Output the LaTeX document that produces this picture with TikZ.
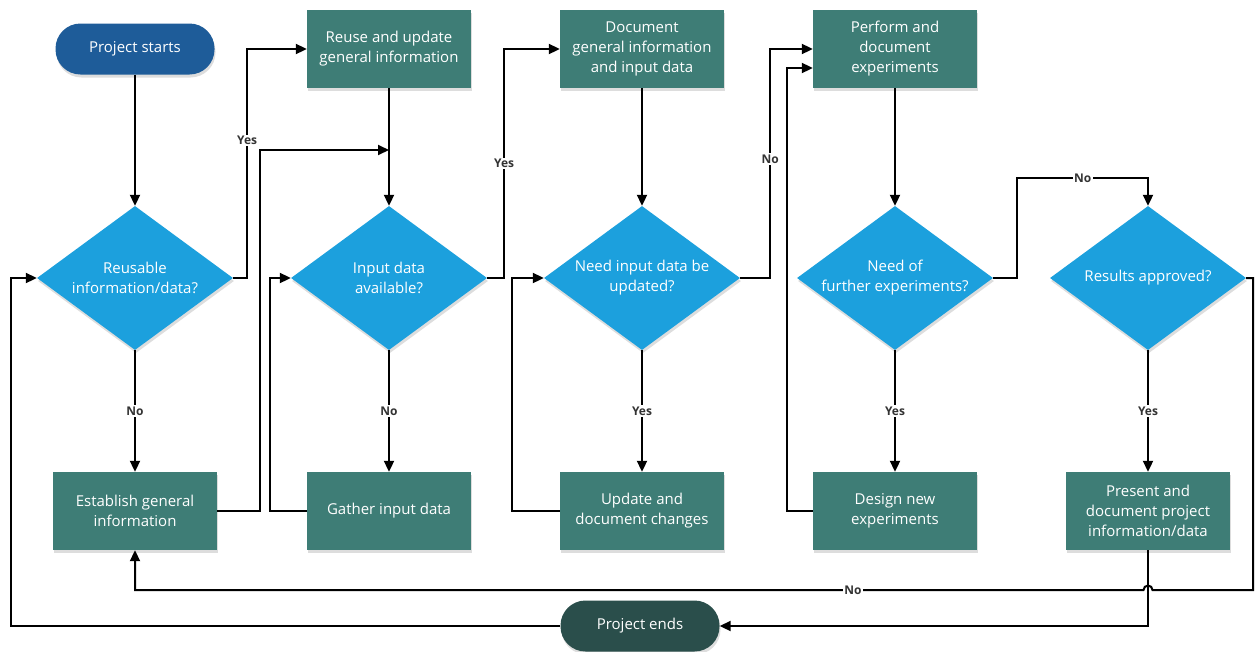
\documentclass[tikz,border=0pt]{standalone}
\usepackage{fontspec}
\setmainfont{Open Sans}
\usetikzlibrary{shapes.geometric,arrows.meta,shadows}
\definecolor{startblue}{HTML}{1E5C99}
\definecolor{endteal}{HTML}{2A4E4B}
\definecolor{boxteal}{HTML}{3E7D76}
\definecolor{diablue}{HTML}{1CA0DD}
\definecolor{lblgray}{HTML}{333333}
\begin{document}
\begin{tikzpicture}[x=1pt,y=-1pt,
  font=\fontsize{15}{20}\selectfont,
  shad/.style={drop shadow={shadow xshift=1pt,shadow yshift=-3pt,opacity=0.22,fill=black!60}},
  box/.style={rectangle,fill=boxteal,text=white,minimum width=164pt,minimum height=78pt,align=center,inner sep=0pt,shad},
  pill/.style={rectangle,rounded corners=25pt,text=white,minimum width=159pt,minimum height=51pt,inner sep=0pt,shad},
  dia/.style={diamond,fill=diablue,minimum width=196pt,minimum height=144pt,inner sep=0pt,shape aspect=1.36,shad},
  dlab/.style={text=white,align=center},
  arr/.style={draw=black,line width=2pt,-{Triangle[length=11pt,width=10pt]}},
  lbl/.style={fill=white,text=lblgray,inner sep=1.5pt,font=\bfseries\fontsize{12}{14}\selectfont}
]
\useasboundingbox (0,0) rectangle (1255,651);
% nodes
\node[pill,fill=startblue] (start) at (135,49) {Project starts};
\node[box] (reuse) at (389,49) {Reuse and update\\general information};
\node[box] (doc) at (642,49) {Document\\general information\\and input data};
\node[box] (perf) at (895,49) {Perform and\\document\\experiments};

\node[dia,label={[dlab]center:{Reusable\\information/data?}}] (d1) at (135,278) {};
\node[dia,label={[dlab]center:{Input data\\available?}}] (d2) at (389,278) {};
\node[dia,label={[dlab]center:{Need input data be\\updated?}}] (d3) at (642,278) {};
\node[dia,label={[dlab]center:{Need of\\further experiments?}}] (d4) at (895,278) {};
\node[dia,label={[dlab]center:{Results approved?}}] (d5) at (1148,278) {};

\node[box] (est) at (135,511) {Establish general\\information};
\node[box] (gat) at (389,511) {Gather input data};
\node[box] (upd) at (642,511) {Update and\\document changes};
\node[box] (des) at (895,511) {Design new\\experiments};
\node[box] (pres) at (1148,511) {Present and\\document project\\information/data};

\node[pill,fill=endteal] (end) at (640,626) {Project ends};

\coordinate (j1) at (389,150);
\coordinate (bl) at (135,590);

% connectors
\draw[arr] (start.south) -- (d1.north);
\draw[arr] (d1.east) -- ++(14,0) |- node[lbl,pos=0.3]{Yes} (reuse.west);
\draw[arr] (reuse.south) -- (d2.north);
\draw[arr] (d1.south) -- node[lbl]{No} (est.north);
\draw[arr] (est.east) -- ++(43,0) |- (j1);
\draw[arr] (gat.west) -- ++(-37,0) |- (d2.west);
\draw[arr] (d2.south) -- node[lbl]{No} (gat.north);
\draw[arr] (d2.east) -- ++(17,0) |- node[lbl,pos=0.25]{Yes} (doc.west);
\draw[arr] (doc.south) -- (d3.north);
\draw[arr] (d3.south) -- node[lbl]{Yes} (upd.north);
\draw[arr] (upd.west) -- ++(-48,0) |- (d3.west);
\draw[arr] (d3.east) -- ++(30,0) |- node[lbl,pos=0.26]{No} (perf.west);
\draw[arr] (des.west) -- ++(-26,0) |- ([yshift=-19pt]perf.west);
\draw[arr] (perf.south) -- (d4.north);
\draw[arr] (d4.south) -- node[lbl]{Yes} (des.north);
\draw[arr] (d4.east) -- ++(24,0) -- ++(0,-100) -| node[lbl,pos=0.25]{No} (d5.north);
\draw[arr] (d5.south) -- node[lbl]{Yes} (pres.north);
\draw[arr] (d5.east) -- ++(7,0) -- ++(0,312) -- (1152.5,590) arc[start angle=0,end angle=180,radius=4.5pt] -- node[lbl,pos=0.288]{No} (bl) -- (est.south);
\draw[arr] (pres.south) |- (end.east);
\draw[arr] (end.west) -- ++(-549,0) |- (d1.west);
\end{tikzpicture}
\end{document}
